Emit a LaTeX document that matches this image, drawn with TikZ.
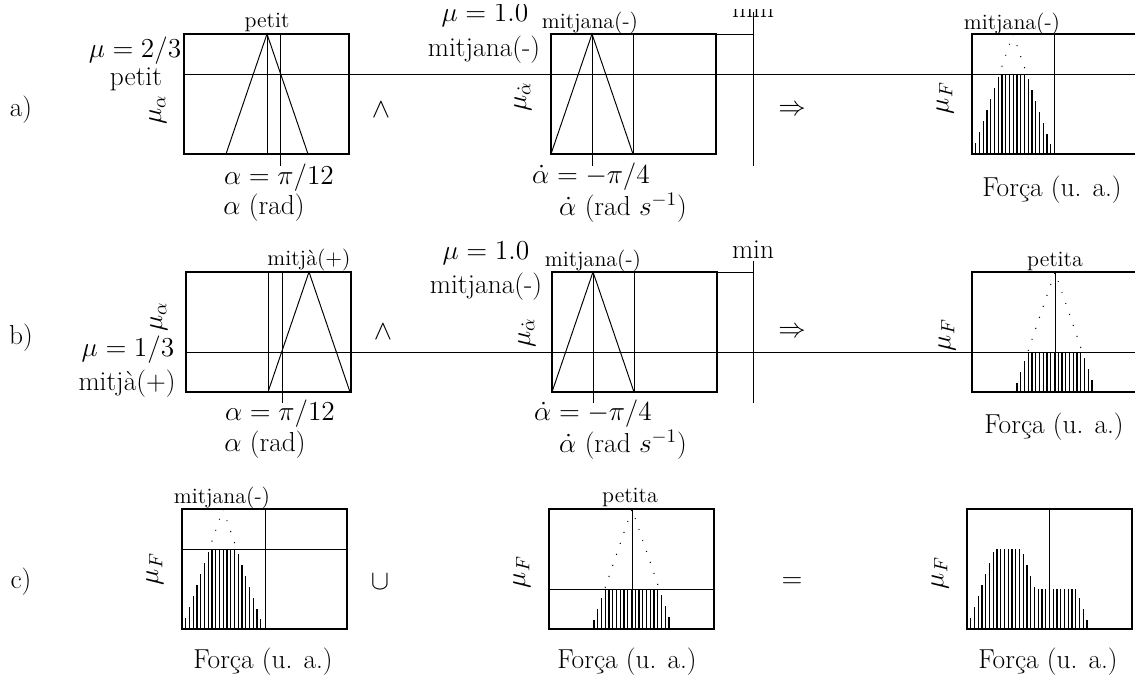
\documentclass[tikz,border=0pt]{standalone}
\usepackage{fix-cm}
\usepackage{amsmath}
\usetikzlibrary{positioning}

% bars of a clipped output set (or of the union of two): x0, bottom, apex1, cut1, apex2, cut2
\newcommand{\fuzzbars}[6]{%
  \foreach \k in {0,...,44}{%
    \pgfmathsetmacro\xx{#1+\k*3.75}%
    \pgfmathsetmacro\ha{max(0,1-abs(\xx-#3)/41)}%
    \pgfmathsetmacro\hb{max(0,1-abs(\xx-#5)/41)}%
    \pgfmathsetmacro\hh{max(min(\ha,#4),min(\hb,#6))}%
    \ifdim\hh pt>0.005pt \draw[bar] (\xx,#2) -- ++(0,-\hh*120); \fi
  }%
}
% dotted rest of the triangle above the cut: x0, bottom, apex, cut
\newcommand{\fuzzdots}[4]{%
  \foreach \k in {0,...,44}{%
    \pgfmathsetmacro\xx{#1+\k*3.75}%
    \pgfmathsetmacro\ha{max(0,1-abs(\xx-#3)/41)}%
    \ifdim\ha pt>#4pt \fill (\xx,#2-\ha*120) circle[radius=0.7]; \fi
  }%
}

\begin{document}
\begin{tikzpicture}[x=0.02cm,y=-0.02cm,line width=0.55pt]
  \tikzstyle{lbl}=[inner sep=0pt,font=\fontsize{15.6}{18}\selectfont]
  \tikzstyle{setname}=[inner sep=0pt,font=\fontsize{12.5}{15}\selectfont]
  \tikzstyle{mu}=[lbl,rotate=90]
  \tikzstyle{box}=[line width=0.6pt]
  \tikzstyle{base}=[line width=1.2pt]
  \tikzstyle{bar}=[line width=0.75pt]
  \useasboundingbox (0,0) rectangle (1135,678);

  % row a
  \draw[box] (184,34) rectangle (349,154);
  \draw[base] (184,154) -- (349,154);
  \draw (226,154) -- (267,34) -- (308,154);
  \draw (267,34) -- (267,154);
  \draw (280,34) -- (280,166);
  \draw[box] (551,34) rectangle (716,154);
  \draw[base] (551,154) -- (716,154);
  \draw (551,154) -- (592,34) -- (633,154);
  \draw (633,34) -- (633,154);
  \draw (592,34) -- (592,166);
  \draw (716,34) -- (753,34);
  \draw (753,12) -- (753,166);
  \draw[box] (972,34) rectangle (1140,154);
  \draw[base] (972,154) -- (1140,154);
  \draw (1054,34) -- (1054,154);
  \fuzzbars{972}{154}{1013}{0.6667}{0}{0}
  \fuzzdots{972}{154}{1013}{0.6667}
  \draw (184,74) -- (1140,74);

  \node[lbl] (tagA) at (21,110) {a)};
  \node[setname] (petitA) at (267,22) {petit};
  \node[lbl] (muvalA) at (135,51) {$\mu=2/3$};
  \node[lbl] (petitB) at (136,79) {petit};
  \node[mu] (mualA) at (158,110) {$\mu_{\alpha}$};
  \node[lbl] (andA) at (381,110) {$\wedge$};
  \node[lbl] (alvalA) at (279,178) {$\alpha=\pi/12$};
  \node[lbl] (alaxA) at (264,208) {$\alpha$ (rad)};
  \begin{scope}
    \clip (0,5) rectangle (1135,678);
    \node[lbl,anchor=base] (muoneA) at (485,22) {$\mu=1.0$};
  \end{scope}
  \begin{scope}
    \clip (0,10) rectangle (1135,678);
    \node[lbl,anchor=base] (minA) at (753,18) {min};
  \end{scope}
  \node[setname] (mitjA) at (590,23) {mitjana(-)};
  \node[lbl] (mitjB) at (484,50) {mitjana(-)};
  \node[mu] (mudotA) at (523,97) {$\mu_{\dot\alpha}$};
  \node[lbl] (dalvalA) at (591,177) {$\dot\alpha=-\pi/4$};
  \node[lbl] (dalaxA) at (623,208) {$\dot\alpha$ (rad $s^{-1}$)};
  \node[lbl] (implA) at (792,110) {$\Rightarrow$};
  \node[setname] (mitjC) at (1012,24) {mitjana(-)};
  \node[mu] (muFA) at (945,98) {$\mu_F$};
  \node[lbl] (forceA) at (1052,190) {Força (u. a.)};

  % row b
  \draw[box] (186,272) rectangle (351,392);
  \draw[base] (186,392) -- (351,392);
  \draw (268,392) -- (309,272) -- (350,392);
  \draw (268,272) -- (268,392);
  \draw (282,272) -- (282,403);
  \draw[box] (552,272) rectangle (717,392);
  \draw[base] (552,392) -- (717,392);
  \draw (552,392) -- (593,272) -- (634,392);
  \draw (634,272) -- (634,392);
  \draw (593,272) -- (593,403);
  \draw (717,272) -- (753,272);
  \draw (753,261) -- (753,403);
  \draw[box] (972,272) rectangle (1140,392);
  \draw[base] (972,392) -- (1140,392);
  \draw (1055,272) -- (1055,392);
  \fuzzbars{972}{392}{1055}{0.3333}{0}{0}
  \fuzzdots{972}{392}{1055}{0.3333}
  \draw (186,352) -- (1140,352);

  \node[lbl] (tagB) at (21,338) {b)};
  \node[setname] (mitjaA) at (309,260) {mitjà(+)};
  \node[mu] (mualB) at (159,317) {$\mu_{\alpha}$};
  \node[lbl] (muvalB) at (128,350) {$\mu=1/3$};
  \node[lbl] (mitjaB) at (127,384) {mitjà(+)};
  \node[lbl] (andB) at (383,332) {$\wedge$};
  \node[lbl] (alvalB) at (280,414) {$\alpha=\pi/12$};
  \node[lbl] (alaxB) at (265,445) {$\alpha$ (rad)};
  \node[lbl] (muoneB) at (486,253) {$\mu=1.0$};
  \node[setname] (mitjD) at (593,261) {mitjana(-)};
  \node[lbl] (mitjE) at (486,287) {mitjana(-)};
  \node[lbl] (minB) at (753,250) {min};
  \node[mu] (mudotB) at (527,333) {$\mu_{\dot\alpha}$};
  \node[lbl] (dalvalB) at (593,414) {$\dot\alpha=-\pi/4$};
  \node[lbl] (dalaxB) at (623,445) {$\dot\alpha$ (rad $s^{-1}$)};
  \node[lbl] (implB) at (792,332) {$\Rightarrow$};
  \node[setname] (petitaA) at (1055,261) {petita};
  \node[mu] (muFB) at (947,335) {$\mu_F$};
  \node[lbl] (forceB) at (1054,427) {Força (u. a.)};

  % row c
  \draw[box] (182,509) rectangle (347,629);
  \draw[base] (182,629) -- (347,629);
  \draw (265,509) -- (265,629);
  \draw (182,549) -- (347,549);
  \fuzzbars{182}{629}{223}{0.6667}{0}{0}
  \fuzzdots{182}{629}{223}{0.6667}
  \draw[box] (549,509) rectangle (714,629);
  \draw[base] (549,629) -- (714,629);
  \draw (632,509) -- (632,629);
  \draw (549,589) -- (714,589);
  \fuzzbars{549}{629}{632}{0.3333}{0}{0}
  \fuzzdots{549}{629}{632}{0.3333}
  \draw[box] (967,509) rectangle (1132,629);
  \draw[base] (967,629) -- (1132,629);
  \draw (1049,509) -- (1049,629);
  \fuzzbars{967}{629}{1008}{0.6667}{1049}{0.3333}

  \node[lbl] (tagC) at (21,582) {c)};
  \node[setname] (mitjF) at (222,498) {mitjana(-)};
  \node[mu] (muFC) at (155,569) {$\mu_F$};
  \node[lbl] (orC) at (380,582) {$\cup$};
  \node[lbl] (forceC) at (263,662) {Força (u. a.)};
  \node[setname] (petitaB) at (630,497) {petita};
  \node[mu] (muFD) at (522,572) {$\mu_F$};
  \node[lbl] (eqC) at (792,583) {$=$};
  \node[lbl] (forceD) at (627,662) {Força (u. a.)};
  \node[mu] (muFE) at (940,573) {$\mu_F$};
  \node[lbl] (forceE) at (1048,662) {Força (u. a.)};
\end{tikzpicture}
\end{document}
